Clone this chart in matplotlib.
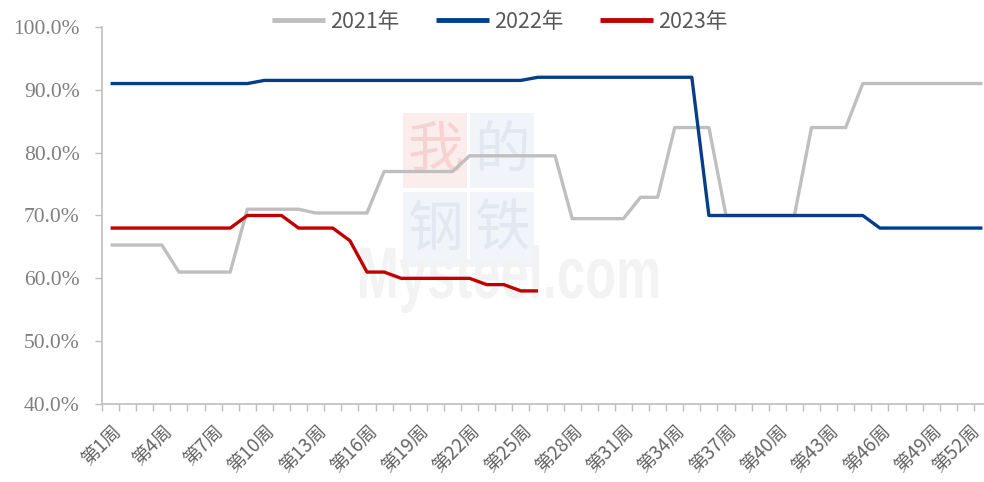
import matplotlib
matplotlib.use("Agg")
import matplotlib.pyplot as plt
from matplotlib.patches import Rectangle, PathPatch
from matplotlib.textpath import TextPath
from matplotlib.font_manager import FontProperties
from matplotlib.transforms import Affine2D, ScaledTranslation
import numpy as np

weeks = list(range(1, 53))
tick_weeks = list(range(1, 53, 3))
tick_labels = [f"第{w}周" for w in tick_weeks]

s2021 = [65.3]*4 + [61.0]*4 + [71.0]*4 + [70.4]*4 + [77.0]*5 + [79.5]*6 + [69.5]*4 + [72.9]*2 + [84.0]*3 + [70.0]*5 + [84.0]*3 + [91.0]*8
s2022 = [91.0]*9 + [91.5]*16 + [92.0]*10 + [70.0]*10 + [68.0]*7
s2023 = [68.0]*8 + [70.0]*3 + [68.0]*3 + [66.0] + [61.0]*2 + [60.0]*5 + [59.0]*2 + [58.0]*2

series = [("2021年", s2021, "#BFBFBF"), ("2022年", s2022, "#033F89"), ("2023年", s2023, "#C00000")]

plt.rcParams['font.family'] = ['Noto Sans CJK SC', 'DejaVu Sans']

fig = plt.figure(figsize=(9.84, 4.82), dpi=100)

# watermark (background)
wm_ax = fig.add_axes([0, 0, 1, 1], zorder=-1)
wm_ax.set_xlim(0, 984); wm_ax.set_ylim(482, 0); wm_ax.axis('off')
boxes = [(403, 113, "#FCEDED", "我", "#F6D3D3"), (470, 113, "#F1F4F9", "的", "#E2E7F0"),
         (403, 192, "#F1F4F9", "钢", "#E2E7F0"), (470, 192, "#F1F4F9", "铁", "#E2E7F0")]
for bx, by, fc, ch, tc in boxes:
    wm_ax.add_patch(Rectangle((bx, by), 64, 75, facecolor=fc, edgecolor='none'))
    wm_ax.text(bx+32, by+38, ch, ha='center', va='center', fontsize=40, color=tc)
tp = TextPath((0, 0), "Mysteel.com", size=100,
              prop=FontProperties(family='Liberation Sans', weight='bold'))
bb = tp.get_extents()
sx = (658-360) / bb.width
sy = (313-245) / bb.height
tr = Affine2D().translate(-bb.x0, -bb.y1).scale(sx, -sy).translate(360, 245)
wm_ax.add_patch(PathPatch(tr.transform_path(tp), facecolor="#F3F3F3", edgecolor='none'))

ax = fig.add_axes([102/984, 1-404/482, (991-102)/984, (404-27)/482])
ax.patch.set_alpha(0)

for name, vals, col in series:
    ax.plot(weeks[:len(vals)], vals, color=col, lw=2.4, label=name, solid_capstyle='butt')

ax.set_xlim(0.5, 52.5)
ax.set_ylim(40, 100)
yt = np.arange(40, 101, 10)
ax.set_yticks(yt)
ax.set_yticklabels([f"{v:.1f}%" for v in yt],
                   family=['Liberation Serif', 'DejaVu Serif'], fontsize=15.5, color='#7F7F7F')
ax.set_xticks(tick_weeks)
ax.set_xticklabels(tick_labels, rotation=45, ha='right', va='top', rotation_mode='anchor',
                   fontsize=13.5, color='#666666')
ax.set_xticks(np.arange(0.5, 53, 1), minor=True)
ax.tick_params(axis='x', which='major', length=0, pad=12)
ax.tick_params(axis='x', which='minor', length=5, color='#BFBFBF', width=1)
ax.tick_params(axis='y', length=5, color='#BFBFBF', width=1, pad=11)
for sp in ['top', 'right']:
    ax.spines[sp].set_visible(False)
for sp in ['left', 'bottom']:
    ax.spines[sp].set_color('#BFBFBF')
    ax.spines[sp].set_linewidth(1.2)

# keep the last label inside the canvas
last = ax.get_xticklabels()[-1]
last.set_transform(last.get_transform() + ScaledTranslation(-13/100, 0, fig.dpi_scale_trans))

leg = ax.legend(loc='center', bbox_to_anchor=(500/984, 1-22/482), bbox_transform=fig.transFigure,
                ncol=3, frameon=False, fontsize=15.5, handlelength=2.45, columnspacing=1.7,
                handletextpad=0.25, labelcolor='#595959', borderpad=0)
for h in leg.get_lines():
    h.set_linewidth(3.5)

fig.savefig("out.png", dpi=100)
